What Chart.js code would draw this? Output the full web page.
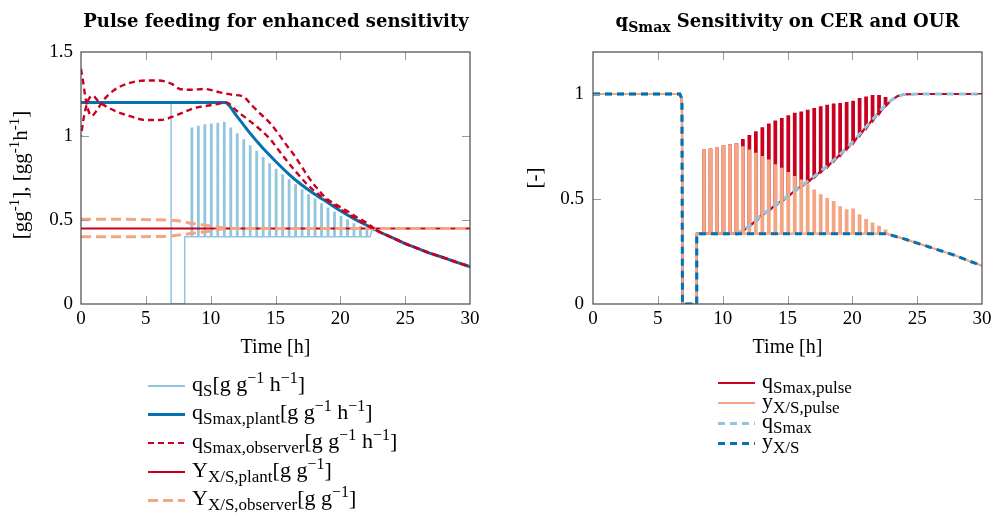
<!DOCTYPE html>
<html>
<head>
<meta charset="utf-8">
<script src="https://cdn.jsdelivr.net/npm/chart.js@4.4.1/dist/chart.umd.min.js"></script>
<style>
html,body{margin:0;padding:0;background:#fff;}
#stage{position:relative;width:992px;height:515px;overflow:hidden;background:#fff;}
canvas{position:absolute;left:0;top:0;}
#overlay{position:absolute;left:0;top:0;width:992px;height:515px;}
.t{position:absolute;white-space:nowrap;font-family:"Liberation Serif","Times New Roman",serif;color:#000;line-height:1;}
.title{font-family:"DejaVu Serif",serif;font-weight:bold;font-size:18px;transform:translateX(-50%);}
.title sub{font-size:14px;vertical-align:-5px;line-height:0;}
.axt{font-size:20px;transform:translateX(-50%);}
.ylab{font-size:21px;transform:translate(-50%,-50%) rotate(-90deg);}
.ylab sup{font-size:15px;vertical-align:8px;line-height:0;}
.leg{font-size:22px;}
.leg sub{font-size:17px;vertical-align:-5px;line-height:0;}
.leg sup{font-size:16px;vertical-align:8px;line-height:0;}
.sw{position:absolute;}
</style>
</head>
<body>
<div id="stage">
<canvas id="cL" width="992" height="515"></canvas>
<canvas id="cR" width="992" height="515"></canvas>
<div id="overlay"></div>
</div>
<script>
// ---------------- tick labels ----------------
const xTickValues = [0, 5, 10, 15, 20, 25, 30];
const leftYTickValues = [0, 0.5, 1, 1.5];
const rightYTickValues = [0, 0.5, 1];

// ---------------- left chart: pulse feeding ----------------
// q_S (substrate uptake) : lead-in, feed pulses, tail
const qsLeadT = [0, 6.95, 6.95, 8.0, 8.0];
const qsLeadY = [1.2, 1.2, 0, 0, 0.4];
const qsPulseT = [8.5, 9, 9.5, 10, 10.5, 11, 11.5, 12, 12.5, 13, 13.5, 14, 14.5, 15, 15.5, 16, 16.5, 17, 17.5, 18, 18.5, 19, 19.5, 20, 20.5, 21, 21.5, 22];
const qsPulseTop = [1.046, 1.056, 1.065, 1.07, 1.075, 1.08, 1.046, 1.012, 0.976, 0.94, 0.907, 0.871, 0.833, 0.80, 0.768, 0.738, 0.708, 0.679, 0.649, 0.623, 0.595, 0.57, 0.544, 0.52, 0.50, 0.476, 0.46, 0.445];
const qsBaseLevel = 0.4;
const qsPulseDur = 0.1;
const qsTailT = [22.3, 22.45];
const qsTailY = [0.4, 0.45];

// q_Smax,plant
const plantT = [0, 11.1, 12, 13, 14, 15, 16, 17, 18, 19, 20, 21, 22, 22.5, 23, 24, 25, 26, 27, 28, 29, 30];
const plantY = [1.2, 1.2, 1.12, 1.02, 0.93, 0.85, 0.775, 0.71, 0.655, 0.605, 0.555, 0.51, 0.47, 0.45, 0.43, 0.395, 0.36, 0.33, 0.30, 0.275, 0.248, 0.222];

// q_Smax,observer runs
const qObsAT = [0, 0.15, 0.3, 0.5, 0.8, 1.2, 1.7, 2.5, 3.5, 5, 6, 7, 7.6, 8.5, 9.5, 10.7, 11.7, 12.5, 13.2, 13.8, 14.6, 15.2, 15.9, 16.5, 17, 17.5, 18.2, 18.9, 19.7, 20.5, 21.3, 22, 22.5];
const qObsAY = [1.4, 1.33, 1.25, 1.17, 1.12, 1.15, 1.21, 1.27, 1.31, 1.33, 1.33, 1.31, 1.28, 1.275, 1.28, 1.26, 1.245, 1.235, 1.18, 1.135, 1.075, 1.016, 0.94, 0.88, 0.82, 0.76, 0.69, 0.63, 0.59, 0.555, 0.515, 0.485, 0.455];
const qObsBT = [0, 0.15, 0.35, 0.6, 0.9, 1.3, 2.2, 3.5, 5.1, 6.1, 7.4, 8.7, 9.7, 10.5, 11.2, 12, 13, 13.8, 14.6, 15.1, 15.9, 16.6, 17.4, 18.2, 18.9, 19.7, 20.5, 21.3, 22, 22.5];
const qObsBY = [1.0, 1.08, 1.16, 1.22, 1.24, 1.21, 1.165, 1.125, 1.095, 1.095, 1.125, 1.165, 1.18, 1.19, 1.2, 1.15, 1.09, 1.04, 0.98, 0.93, 0.85, 0.785, 0.715, 0.66, 0.62, 0.58, 0.54, 0.505, 0.47, 0.45];

// Y_X/S plant and observer runs
const yPlantT = [0, 30];
const yPlantY = [0.45, 0.45];
const yObsAT = [0, 6.5, 7.5, 8.5, 10, 11, 12, 30];
const yObsAY = [0.505, 0.5, 0.495, 0.48, 0.465, 0.452, 0.45, 0.45];
const yObsBT = [0, 6.5, 7.5, 8.5, 10, 11, 12, 30];
const yObsBY = [0.40, 0.402, 0.41, 0.42, 0.435, 0.448, 0.45, 0.45];

// ---------------- right chart: sensitivity ----------------
const rLeadT = [0, 6.7, 6.8, 6.86, 6.9, 8.0, 8.0];
const rLeadY = [1, 1, 0.985, 0.95, 0, 0, 0.335];
const rPulseT = [8.5, 9, 9.5, 10, 10.5, 11, 11.5, 12, 12.5, 13, 13.5, 14, 14.5, 15, 15.5, 16, 16.5, 17, 17.5, 18, 18.5, 19, 19.5, 20, 20.5, 21, 21.5, 22, 22.5];
const qPulseBase = [0.335, 0.335, 0.335, 0.335, 0.335, 0.335, 0.35, 0.37, 0.395, 0.425, 0.445, 0.47, 0.49, 0.515, 0.537, 0.56, 0.582, 0.605, 0.63, 0.655, 0.682, 0.71, 0.74, 0.77, 0.805, 0.84, 0.875, 0.91, 0.945];
const qPulseTop = [0.73, 0.735, 0.74, 0.75, 0.755, 0.76, 0.78, 0.80, 0.817, 0.837, 0.854, 0.868, 0.881, 0.893, 0.905, 0.912, 0.92, 0.928, 0.936, 0.944, 0.949, 0.952, 0.957, 0.963, 0.976, 0.983, 0.99, 0.99, 0.98];
const yPulseBaseLevel = 0.335;
const yPulseTop = [0.73, 0.735, 0.74, 0.75, 0.755, 0.76, 0.746, 0.73, 0.715, 0.70, 0.683, 0.66, 0.644, 0.623, 0.604, 0.588, 0.565, 0.54, 0.517, 0.50, 0.485, 0.46, 0.446, 0.45, 0.422, 0.40, 0.383, 0.367, 0.35];
const rPulseDur = 0.12;
const qsmaxStartT = [11.1];
const qsmaxStartY = [0.335];
const qsmaxTailT = [23, 23.5, 24, 25, 30];
const qsmaxTailY = [0.97, 0.99, 0.998, 1, 1];
const yxsFlatEndT = [22.5];
const yxsFlatEndY = [0.335];
const yxsTailT = [23, 24, 25, 26, 27, 28, 29, 30];
const yxsTailY = [0.328, 0.31, 0.29, 0.27, 0.25, 0.23, 0.205, 0.182];

// ---------------- labels ----------------
const leftLegendLabels = [
  'q<sub>S</sub>[g g<sup>\u22121</sup> h<sup>\u22121</sup>]',
  'q<sub>Smax,plant</sub>[g g<sup>\u22121</sup> h<sup>\u22121</sup>]',
  'q<sub>Smax,observer</sub>[g g<sup>\u22121</sup> h<sup>\u22121</sup>]',
  'Y<sub>X/S,plant</sub>[g g<sup>\u22121</sup>]',
  'Y<sub>X/S,observer</sub>[g g<sup>\u22121</sup>]'
];
const rightLegendLabels = [
  'q<sub>Smax,pulse</sub>',
  'y<sub>X/S,pulse</sub>',
  'q<sub>Smax</sub>',
  'y<sub>X/S</sub>'
];

// ---------------- helpers ----------------
const C = {red:'#ca0020', salmon:'#f4a582', lblue:'#92c5de', blue:'#0571b0'};
const pts = (T, Y) => T.map((t, i) => ({x: t, y: Y[i]}));
function pulses(T, base, top, dur) {
  const out = [];
  T.forEach((t, i) => {
    const b = Array.isArray(base) ? base[i] : base;
    out.push({x: t, y: b}, {x: t, y: top[i]}, {x: t + dur, y: top[i]}, {x: t + dur, y: b});
  });
  return out;
}
const plantPts = pts(plantT, plantY);
const plantTail = plantPts.filter(p => p.x >= 23);

const framePlugin = {
  id: 'frame',
  afterDraw(chart) {
    const {ctx, chartArea: a, scales: {x, y}} = chart;
    const L = 8;
    ctx.save();
    ctx.strokeStyle = '#9a9a9a';
    ctx.lineWidth = 1;
    ctx.beginPath();
    x.ticks.forEach(t => {
      const px = Math.round(x.getPixelForValue(t.value)) + 0.5;
      if (px < a.left + 2 || px > a.right - 2) return;
      ctx.moveTo(px, a.bottom); ctx.lineTo(px, a.bottom - L);
      ctx.moveTo(px, a.top); ctx.lineTo(px, a.top + L);
    });
    y.ticks.forEach(t => {
      const py = Math.round(y.getPixelForValue(t.value)) + 0.5;
      if (py < a.top + 2 || py > a.bottom - 2) return;
      ctx.moveTo(a.left, py); ctx.lineTo(a.left + L, py);
      ctx.moveTo(a.right, py); ctx.lineTo(a.right - L, py);
    });
    ctx.stroke();
    ctx.strokeStyle = '#4a4a4a';
    ctx.lineWidth = 1.2;
    ctx.strokeRect(a.left, a.top, a.right - a.left, a.bottom - a.top);
    ctx.restore();
  }
};

function options(cfg) {
  const xFont = {family: 'Liberation Serif', size: 19, lineHeight: 1.63};
  const yFont = {family: 'Liberation Serif', size: 19, lineHeight: 1};
  return {
    responsive: false, animation: false, devicePixelRatio: 1,
    layout: {padding: cfg.pad},
    plugins: {legend: {display: false}, tooltip: {enabled: false}, title: {display: false}},
    elements: {point: {radius: 0, hoverRadius: 0}, line: {tension: 0}},
    scales: {
      x: {type: 'linear', min: 0, max: 30,
        afterBuildTicks: s => { s.ticks = xTickValues.map(v => ({value: v})); },
        afterFit: s => { s.height = cfg.xH; },
        grid: {display: false, drawTicks: false}, border: {display: false},
        ticks: {padding: 0, color: '#000', maxRotation: 0, autoSkip: false, font: xFont, callback: v => String(v)}},
      y: {type: 'linear', min: 0, max: cfg.yMax,
        afterBuildTicks: s => { s.ticks = cfg.yTicks.map(v => ({value: v})); },
        afterFit: s => { s.width = cfg.yW; },
        grid: {display: false, drawTicks: false}, border: {display: false},
        ticks: {padding: cfg.yPad, color: '#000', autoSkip: false, font: yFont, callback: v => String(v)}}
    }
  };
}

// ---------------- left chart ----------------
const leftSets = [
  {label: 'q_S', data: pts(qsLeadT, qsLeadY).concat(pulses(qsPulseT, qsBaseLevel, qsPulseTop, qsPulseDur), pts(qsTailT, qsTailY), plantTail),
   borderColor: C.lblue, borderWidth: 1.5, order: 5, legend: 0},
  {label: 'q_Smax,plant', data: plantPts, borderColor: C.blue, borderWidth: 3, cubicInterpolationMode: 'monotone', order: 4, legend: 1},
  {label: 'Y_X/S,plant', data: pts(yPlantT, yPlantY), borderColor: C.red, borderWidth: 2, order: 3, legend: 3},
  {label: 'Y_X/S,observer', data: pts(yObsAT, yObsAY), borderColor: C.salmon, borderWidth: 3, borderDash: [10, 5], cubicInterpolationMode: 'monotone', order: 2, legend: 4},
  {label: 'Y_X/S,observer b', data: pts(yObsBT, yObsBY), borderColor: C.salmon, borderWidth: 3, borderDash: [10, 5], cubicInterpolationMode: 'monotone', order: 2},
  {label: 'q_Smax,observer', data: pts(qObsAT, qObsAY).concat(plantTail), borderColor: C.red, borderWidth: 2.4, borderDash: [6, 4], cubicInterpolationMode: 'monotone', order: 1, legend: 2},
  {label: 'q_Smax,observer b', data: pts(qObsBT, qObsBY).concat(plantTail), borderColor: C.red, borderWidth: 2.4, borderDash: [6, 4], borderDashOffset: 5, cubicInterpolationMode: 'monotone', order: 1}
];
new Chart(document.getElementById('cL'), {
  type: 'line',
  data: {datasets: leftSets},
  options: options({pad: {left: 0, right: 522, top: 52, bottom: 0}, xH: 211, yW: 81, yMax: 1.5, yTicks: leftYTickValues, yPad: 8}),
  plugins: [framePlugin]
});

// ---------------- right chart ----------------
const rLead = pts(rLeadT, rLeadY);
const rightSets = [
  {label: 'q_Smax,pulse', data: rLead.concat(pulses(rPulseT, qPulseBase, qPulseTop, rPulseDur), pts(qsmaxTailT, qsmaxTailY)),
   borderColor: C.red, borderWidth: 2.2, order: 4, legend: 0},
  {label: 'y_X/S,pulse', data: rLead.concat(pulses(rPulseT, yPulseBaseLevel, yPulseTop, rPulseDur), pts(yxsTailT, yxsTailY)),
   borderColor: C.salmon, borderWidth: 2.2, order: 3, legend: 1},
  {label: 'q_Smax', data: rLead.concat(pts(qsmaxStartT, qsmaxStartY), pts(rPulseT.slice(6), qPulseBase.slice(6)), pts(qsmaxTailT, qsmaxTailY)),
   borderColor: C.lblue, borderWidth: 3, borderDash: [7, 5], order: 2, legend: 2},
  {label: 'y_X/S', data: rLead.concat(pts(yxsFlatEndT, yxsFlatEndY), pts(yxsTailT, yxsTailY)),
   borderColor: C.blue, borderWidth: 3, borderDash: [7, 5], order: 1, legend: 3}
];
new Chart(document.getElementById('cR'), {
  type: 'line',
  data: {datasets: rightSets},
  options: options({pad: {left: 513, right: 10, top: 52, bottom: 0}, xH: 211, yW: 80, yMax: 1.2, yTicks: rightYTickValues, yPad: 9}),
  plugins: [framePlugin]
});

// ---------------- text overlay ----------------
const ov = document.getElementById('overlay');
function addText(cls, html, left, top) {
  const d = document.createElement('div');
  d.className = 't ' + cls;
  d.innerHTML = html;
  d.style.left = left + 'px';
  d.style.top = top + 'px';
  ov.appendChild(d);
  return d;
}
addText('title', 'Pulse feeding for enhanced sensitivity', 276, 12);
addText('title', 'q<sub>Smax</sub> Sensitivity on CER and OUR', 787.5, 12);
addText('axt', 'Time [h]', 275.5, 336);
addText('axt', 'Time [h]', 787.5, 336);
addText('ylab', '[gg<sup>-1</sup>], [gg<sup>-1</sup>h<sup>-1</sup>]', 20, 175);
addText('ylab', '[-]', 534, 177.5);

function swatch(ds, x0, yc, len) {
  const d = document.createElement('div');
  d.className = 'sw';
  const w = ds.borderWidth;
  d.style.left = x0 + 'px';
  d.style.width = len + 'px';
  d.style.top = (yc - w / 2) + 'px';
  d.style.height = w + 'px';
  if (ds.borderDash) {
    const [on, off] = ds.borderDash;
    d.style.background = 'repeating-linear-gradient(to right,' + ds.borderColor + ' 0 ' + on + 'px, transparent ' + on + 'px ' + (on + off) + 'px)';
  } else {
    d.style.background = ds.borderColor;
  }
  ov.appendChild(d);
}
function legend(sets, labels, x0, y0, dy, len) {
  sets.filter(s => s.legend !== undefined).sort((a, b) => a.legend - b.legend).forEach(s => {
    const yc = y0 + s.legend * dy;
    swatch(s, x0, yc, len);
    addText('leg', labels[s.legend], x0 + len + 7, yc - 13.2);
  });
}
legend(leftSets, leftLegendLabels, 148, 386, 28.6, 37);
legend(rightSets, rightLegendLabels, 718, 383, 20, 37);
</script>
</body>
</html>
